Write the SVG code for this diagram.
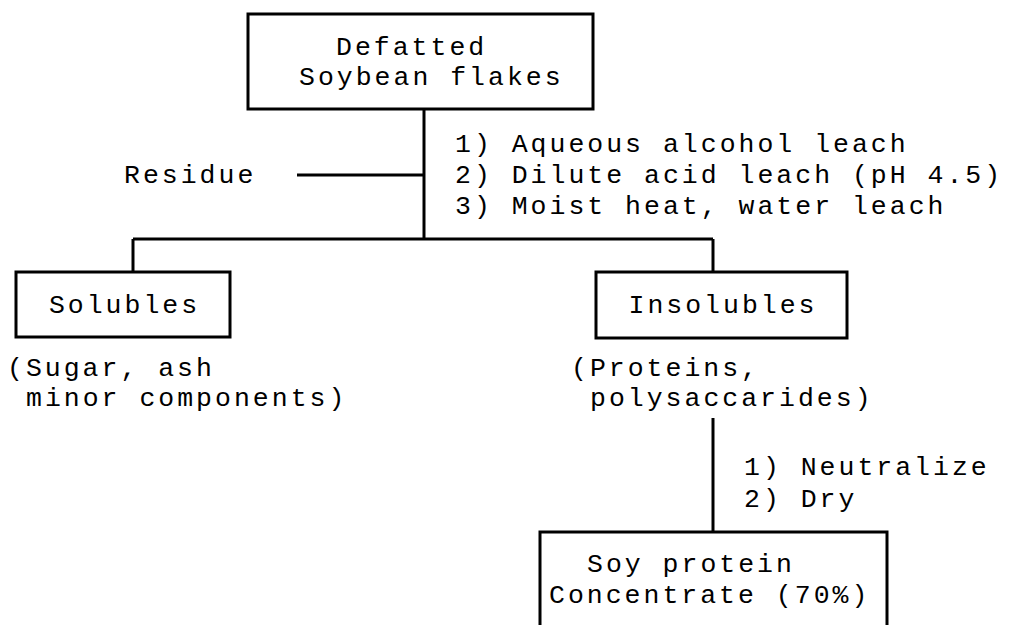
<svg xmlns="http://www.w3.org/2000/svg" width="1011" height="625" viewBox="0 0 1011 625">
<style>
.box{fill:#fff;stroke:#000;stroke-width:3}
.ln{stroke:#000;stroke-width:3;fill:none}
text{font-family:"Liberation Mono","Courier New",monospace;font-size:26.5px;letter-spacing:3px;fill:#000}
.m{text-anchor:middle}
</style>
<rect width="1011" height="625" fill="#fff"/>
<g id="connectors">
<line class="ln" x1="424" y1="109" x2="424" y2="239"/>
<line class="ln" x1="297" y1="175" x2="424" y2="175"/>
<line class="ln" x1="133" y1="239" x2="713" y2="239"/>
<line class="ln" x1="133" y1="239" x2="133" y2="272"/>
<line class="ln" x1="713" y1="239" x2="713" y2="272"/>
<line class="ln" x1="713" y1="418" x2="713" y2="532"/>
<text x="455" y="152">1) Aqueous alcohol leach</text>
<text x="455" y="183">2) Dilute acid leach (pH 4.5)</text>
<text x="455" y="214">3) Moist heat, water leach</text>
<text x="744" y="475">1) Neutralize</text>
<text x="744" y="507">2) Dry</text>
</g>
<g id="node-defatted">
<rect class="box" x="248" y="14" width="345" height="95"/>
<text x="336" y="55">Defatted</text>
<text x="299" y="85">Soybean flakes</text>
</g>
<g id="node-residue">
<text x="124" y="183">Residue</text>
</g>
<g id="node-solubles">
<rect class="box" x="16" y="272" width="214" height="65"/>
<text class="m" x="124.5" y="313">Solubles</text>
<text x="7" y="376">(Sugar, ash</text>
<text x="26" y="406">minor components)</text>
</g>
<g id="node-insolubles">
<rect class="box" x="596" y="272" width="251" height="66"/>
<text class="m" x="723" y="313">Insolubles</text>
<text x="571" y="376">(Proteins,</text>
<text x="590" y="406">polysaccarides)</text>
</g>
<g id="node-concentrate">
<rect class="box" x="540" y="532" width="347" height="110"/>
<text x="587" y="572">Soy protein</text>
<text x="549" y="603">Concentrate (70%)</text>
</g>
</svg>
